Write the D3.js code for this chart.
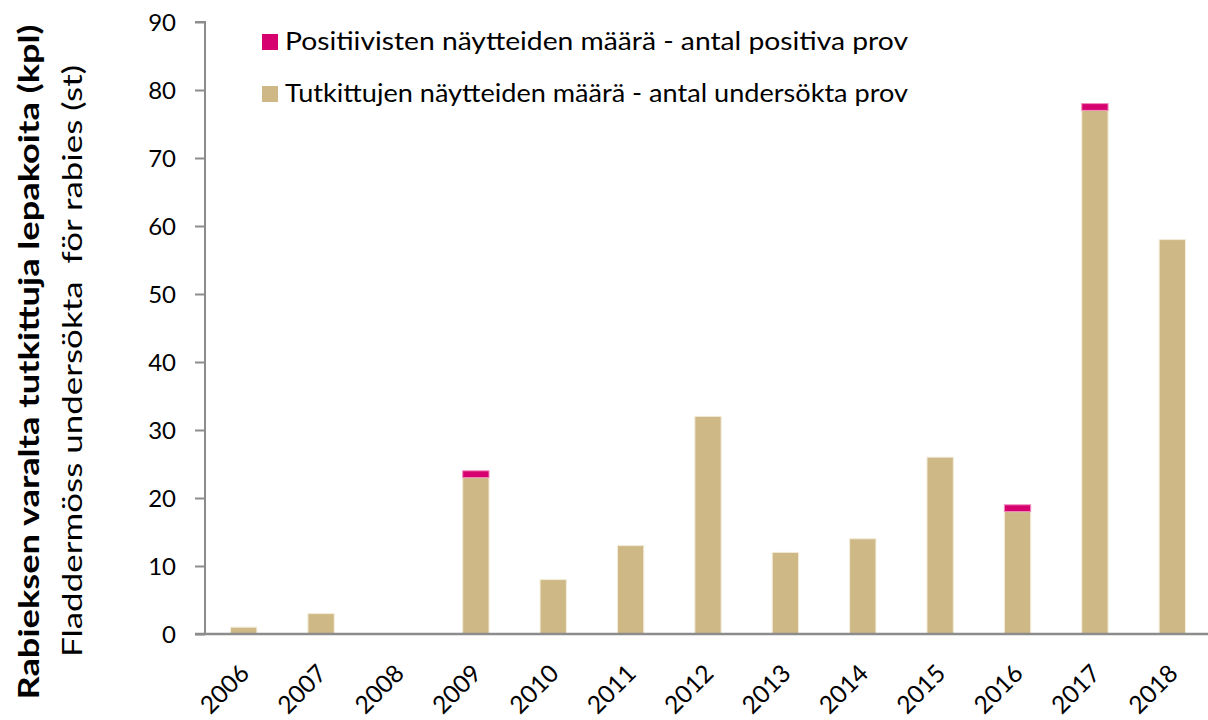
<!DOCTYPE html>
<html><head><meta charset="utf-8">
<script src="https://cdn.jsdelivr.net/npm/d3@7"></script>
<style>body{margin:0;background:#fff}svg{display:block}text{font-family:Lato,"Open Sans",sans-serif;fill:#000}</style>
</head><body>
<svg id="c" width="1208" height="720"></svg>
<script>
const years = ["2006","2007","2008","2009","2010","2011","2012","2013","2014","2015","2016","2017","2018"];
const tested = [1,3,0,23,8,13,32,12,14,26,18,77,58];
const positive = [0,0,0,1,0,0,0,0,0,0,1,1,0];
const yTicks = [0,10,20,30,40,50,60,70,80,90];
const legendLabels = ["Positiivisten näytteiden määrä - antal positiva prov","Tutkittujen näytteiden määrä - antal undersökta prov"];
const colors = {pos:"#D6006F", tested:"#CEB886", axis:"#8c8c8c"};

const svg = d3.select("#c");
const x = d3.scaleBand().domain(years).range([205,1211]).paddingInner(0.66).paddingOuter(0.33);
const y = d3.scaleLinear().domain([0,90]).range([634,22]);

const data = years.map((yr,i)=>({yr, t:tested[i], p:positive[i]}));
svg.append("g").selectAll("rect").data(data).join("rect")
  .attr("x",d=>x(d.yr)).attr("width",x.bandwidth())
  .attr("y",d=>y(d.t)).attr("height",d=>y(0)-y(d.t))
  .attr("fill",colors.tested).attr("stroke","#f3ecd9").attr("stroke-width",1);
svg.append("g").selectAll("rect").data(data.filter(d=>d.p>0)).join("rect")
  .attr("x",d=>x(d.yr)).attr("width",x.bandwidth())
  .attr("y",d=>y(d.t+d.p)).attr("height",d=>y(d.t)-y(d.t+d.p))
  .attr("fill",colors.pos).attr("stroke","#f08cbc").attr("stroke-width",1);

const ya = svg.append("g").attr("transform","translate(205,0)")
  .call(d3.axisLeft(y).tickValues(yTicks).tickSize(10).tickPadding(19));
ya.select(".domain").attr("stroke",colors.axis).attr("stroke-width",2).attr("d","M-10,"+y(90)+"H0V"+y(0));
ya.selectAll(".tick line").attr("stroke",colors.axis).attr("stroke-width",2);
ya.selectAll(".tick text").attr("font-size",24).attr("font-family","Lato,sans-serif").attr("fill","#000").attr("dy","0.36em");

const xa = svg.append("g").attr("transform","translate(0,"+y(0)+")")
  .call(d3.axisBottom(x).tickSize(0).tickPadding(0));
xa.select(".domain").attr("stroke",colors.axis).attr("stroke-width",2.5).attr("d","M195,0H1208");
xa.selectAll(".tick text").attr("font-size",24.5).attr("font-family","Lato,sans-serif").attr("fill","#000")
  .attr("text-anchor","end").attr("dy",0).attr("y",0)
  .attr("transform","translate(7,41) rotate(-45)");

const lg = svg.append("g");
[[colors.pos,legendLabels[0],50],[colors.tested,legendLabels[1],102]].forEach(([c,t,by])=>{
  lg.append("rect").attr("x",262).attr("y",by-16).attr("width",16).attr("height",16).attr("fill",c);
  lg.append("text").attr("x",285).attr("y",by).attr("font-size",25)
    .attr("textLength",t.length>52?655:623).attr("lengthAdjust","spacingAndGlyphs").text(t);
});

svg.append("text").attr("transform","translate(39,362) rotate(-90)").attr("text-anchor","middle")
  .attr("font-size",29).attr("font-weight","bold").attr("textLength",675).attr("lengthAdjust","spacingAndGlyphs")
  .text("Rabieksen varalta tutkittuja lepakoita (kpl)");
svg.append("text").attr("transform","translate(82,361) rotate(-90)").attr("text-anchor","middle")
  .attr("font-size",27).attr("xml:space","preserve").attr("textLength",592).attr("lengthAdjust","spacingAndGlyphs")
  .text("Fladdermöss undersökta  för rabies (st)");
</script>
</body></html>
